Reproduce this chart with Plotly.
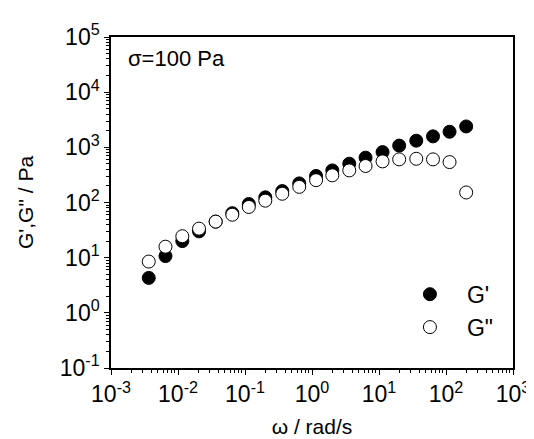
import plotly.graph_objects as go

# angular frequency (rad/s) and moduli (Pa)
omega = [0.00366, 0.0065, 0.0116, 0.0206, 0.0365, 0.0646, 0.114, 0.201, 0.36,
         0.645, 1.15, 2.01, 3.6, 6.3, 11.3, 20, 36, 64, 113, 200]
g_storage = [4.3, 10.7, 20, 30, 45, 64, 94, 124, 161, 222, 303, 382, 505,
             650, 820, 1075, 1320, 1580, 1915, 2390]
g_loss = [8.5, 15.8, 24.5, 33.6, 45, 60, 83, 108, 144, 192, 254, 311, 382,
          459, 556, 605, 620, 605, 540, 152]

x_tickvals = [1e-3, 1e-2, 1e-1, 1, 10, 100, 1000]
x_ticktext = ["10<sup>-3</sup>", "10<sup>-2</sup>", "10<sup>-1</sup>", "10<sup>0</sup>",
              "10<sup>1</sup>", "10<sup>2</sup>", "10<sup>3</sup>"]
y_tickvals = [1e-1, 1, 10, 100, 1e3, 1e4, 1e5]
y_ticktext = ["10<sup>-1</sup>", "10<sup>0</sup>", "10<sup>1</sup>", "10<sup>2</sup>",
              "10<sup>3</sup>", "10<sup>4</sup>", "10<sup>5</sup>"]

FONT = "Arial, Liberation Sans, sans-serif"

fig = go.Figure()
fig.add_trace(go.Scatter(
    x=omega, y=g_storage, mode="markers", name="G'",
    marker=dict(symbol="circle", size=13, color="black",
                line=dict(color="black", width=1))
))
fig.add_trace(go.Scatter(
    x=omega, y=g_loss, mode="markers", name='G"',
    marker=dict(symbol="circle", size=13, color="white",
                line=dict(color="black", width=1))
))

axis_common = dict(
    type="log",
    showgrid=False,
    zeroline=False,
    showline=True,
    linecolor="black",
    linewidth=1.5,
    mirror=True,
    ticks="outside",
    ticklen=5,
    tickwidth=1,
    tickcolor="black",
    tickfont=dict(family=FONT, size=23, color="black"),
    minor=dict(ticks="outside", ticklen=3, tickcolor="black", tickwidth=1,
               dtick="D1", showgrid=False),
)

fig.update_xaxes(
    **axis_common,
    range=[-3, 3],
    tickmode="array", tickvals=x_tickvals, ticktext=x_ticktext,
    title=dict(text="ω / rad/s", font=dict(family=FONT, size=21, color="black"),
               standoff=13),
)
fig.update_yaxes(
    **axis_common,
    range=[-1, 5],
    tickmode="array", tickvals=y_tickvals, ticktext=y_ticktext,
    title=dict(text="G',G\" / Pa", font=dict(family=FONT, size=21, color="black"),
               standoff=20),
)

fig.add_annotation(
    text="σ=100 Pa", xref="paper", yref="paper", x=0.037, y=0.935,
    xanchor="left", yanchor="middle", showarrow=False,
    font=dict(family=FONT, size=22, color="black")
)

fig.update_layout(
    width=534, height=439,
    margin=dict(l=103, r=19, t=25, b=79),
    paper_bgcolor="white",
    plot_bgcolor="white",
    font=dict(family=FONT, color="black"),
    showlegend=True,
    legend=dict(
        x=0.965, y=0.173, xanchor="right", yanchor="middle",
        bgcolor="rgba(0,0,0,0)",
        font=dict(family=FONT, size=23, color="black"),
        itemwidth=64,
        tracegroupgap=0,
    ),
)

fig.write_html("out.html")
